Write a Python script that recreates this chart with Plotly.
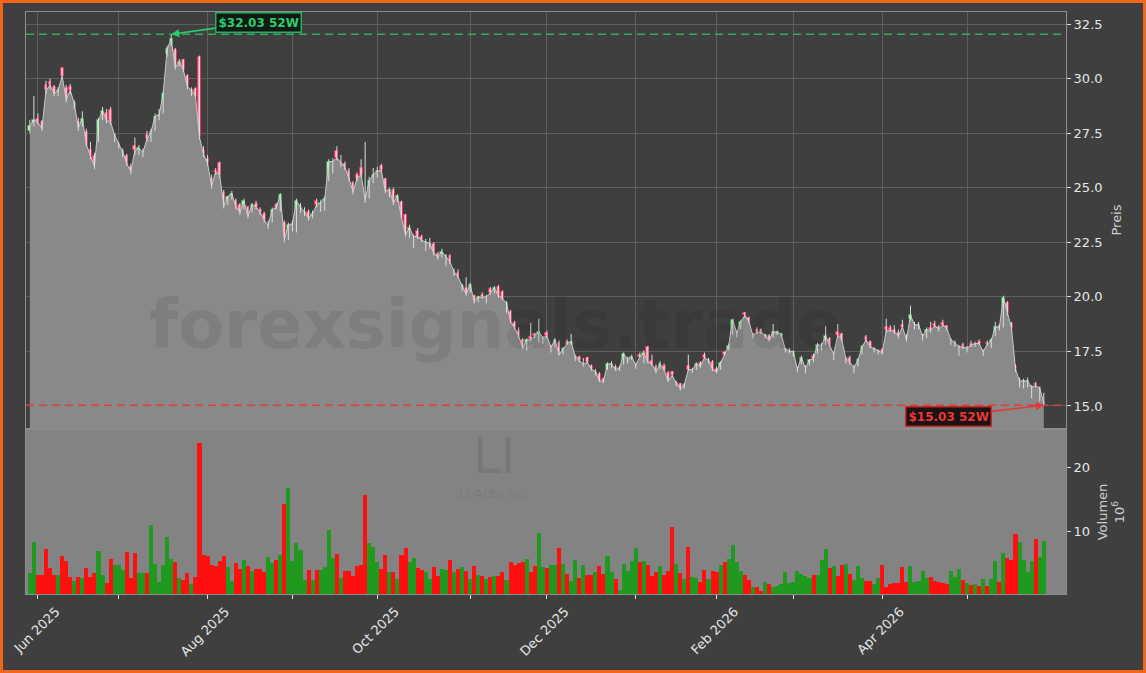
import pandas as pd
import plotly.graph_objects as go

# ---------------- data ----------------
open_ = [
27.6, 27.85, 28.15, 28.0, 29.7, 29.85, 29.6, 29.3, 30.48, 29.55,
29.6, 28.7, 28.0, 27.9, 27.55, 26.75, 26.45, 27.23, 28.2, 28.43,
28.55, 27.2, 26.85, 26.45, 26.45, 25.95, 26.9, 26.6, 26.5, 27.4,
27.2, 27.7, 28.2, 28.5, 31.13, 31.6, 31.3, 30.65, 30.83, 30.1,
29.35, 29.5, 31.0, 26.7, 26.3, 25.4, 25.78, 26.14, 24.78, 24.3,
24.55, 24.4, 24.2, 24.1, 24.1, 23.9, 24.25, 24.0, 23.8, 23.2,
23.5, 24.2, 23.96, 23.39, 22.67,
23.1, 23.0, 23.95, 23.8, 23.9, 23.68, 24.4, 24.0, 24.05, 25.35,
25.75, 26.66, 26.05, 26.1, 25.77, 25.2, 25.6, 25.9, 24.6, 24.6,
25.35, 25.55, 26.0, 25.39, 24.65, 24.9, 24.45, 24.34, 23.74, 22.84,
22.33, 23.0, 22.74, 22.16, 22.3, 22.41, 21.98, 21.9, 21.5, 21.85,
21.0, 21.1, 20.35, 20.4, 20.3, 20.02, 19.85, 20.1, 19.8, 20.36,
20.25, 20.47, 20.23, 19.35, 19.32, 18.8, 18.45, 18.03, 17.6, 18.15,
18.3, 17.95, 17.95,
18.35, 17.55, 17.8, 17.9, 17.4, 17.95, 17.85, 17.15, 17.25, 16.85,
17.2, 16.83, 16.45, 16.48, 16.25, 16.7, 16.8, 16.8, 16.68, 16.95,
16.98, 17.15, 16.78, 17.35, 17.0, 17.68, 17.05, 16.8, 16.75, 16.85,
16.5, 16.55, 15.95, 16.0, 15.85, 16.85, 16.55, 16.7, 16.95, 17.35,
16.98, 17.0, 16.7, 16.7, 17.45, 17.6, 18.3, 18.2, 18.55, 19.25,
19.03, 18.15, 18.5, 18.48, 18.15, 18.2, 18.2, 18.3, 18.2, 17.5,
17.45, 17.3, 16.6, 16.95,
16.6, 16.9, 17.3, 17.5, 17.65, 17.9, 18.05, 17.25, 18.4, 18.3,
17.05, 17.2, 16.6, 16.85, 17.4, 18.15, 17.95, 17.5, 17.45, 17.55,
18.6, 18.55, 18.5, 18.35, 18.72, 18.2, 19.0, 18.6, 18.55, 18.1,
18.2, 18.55, 18.75, 18.6, 18.82, 18.65, 17.85, 17.8, 17.4, 17.8,
17.55, 17.85, 17.75, 17.95, 17.4, 17.9, 17.7, 18.3, 18.65, 18.7,
19.7, 18.75, 16.78, 15.95, 15.9, 15.95, 15.45, 16.0, 15.3, 15.1,
]

high = [
28.1, 29.2, 28.4, 28.1, 29.9, 30.0, 29.7, 29.6, 30.5, 29.7,
29.75, 29.0, 28.2, 28.5, 27.7, 27.1, 26.6, 28.2, 28.7, 28.6,
28.7, 27.5, 27.1, 26.8, 26.55, 26.1, 27.3, 26.95, 26.8, 27.6,
27.7, 28.4, 28.6, 29.4, 31.5, 32.03, 31.4, 30.9, 30.9, 30.2,
29.6, 29.6, 31.05, 26.9, 26.5, 25.6, 25.9, 26.2, 24.9, 24.65,
24.85, 24.5, 24.3, 24.5, 24.15, 24.3, 24.4, 24.1, 23.9, 23.5,
24.1, 24.3, 24.75, 23.5, 23.4,
23.5, 24.5, 24.3, 24.1, 24.0, 23.95, 24.5, 24.45, 24.6, 26.3,
26.35, 26.9, 26.5, 26.2, 25.9, 25.3, 25.7, 26.3, 27.1, 25.5,
25.9, 25.95, 26.1, 25.45, 25.0, 25.0, 24.7, 24.4, 23.8, 23.3,
22.85, 23.15, 22.85, 22.65, 22.7, 22.5, 22.05, 22.2, 21.95, 21.95,
21.3, 21.25, 20.6, 20.9, 20.65, 20.1, 20.05, 20.2, 20.1, 20.45,
20.5, 20.55, 20.3, 19.8, 19.4, 18.9, 18.6, 18.1, 18.1, 18.8,
18.35, 19.0, 18.2,
18.45, 17.8, 18.1, 18.0, 17.7, 18.05, 18.3, 17.35, 17.3, 17.2,
17.25, 16.9, 16.7, 16.55, 16.3, 17.0, 17.05, 16.9, 16.85, 17.45,
17.25, 17.35, 16.95, 17.45, 17.55, 17.75, 17.35, 16.9, 17.05, 16.95,
16.6, 16.6, 16.15, 16.05, 16.05, 17.35, 16.75, 17.0, 17.05, 17.45,
17.2, 17.1, 16.8, 17.05, 17.5, 17.85, 19.0, 18.45, 18.95, 19.3,
19.1, 18.35, 18.6, 18.55, 18.3, 18.3, 18.75, 18.45, 18.35, 17.65,
17.65, 17.55, 16.8, 17.3,
16.85, 17.15, 17.4, 17.9, 17.9, 18.65, 18.15, 17.45, 18.75, 18.35,
17.25, 17.3, 16.9, 17.2, 17.8, 18.25, 18.0, 17.7, 17.6, 17.65,
19.0, 18.7, 18.7, 18.5, 18.95, 18.3, 19.6, 18.85, 18.85, 18.3,
18.6, 18.85, 18.9, 18.7, 18.95, 18.7, 18.1, 18.0, 17.8, 17.9,
17.75, 18.0, 17.95, 18.05, 17.6, 18.0, 18.1, 18.85, 18.75, 20.05,
19.8, 18.85, 16.9, 16.3, 16.25, 16.3, 15.95, 16.1, 15.9, 15.6,
]

low = [
27.5, 27.8, 27.9, 27.6, 29.3, 29.5, 29.2, 29.2, 30.0, 28.9,
29.3, 28.6, 27.6, 27.8, 26.9, 26.3, 25.85, 27.1, 28.1, 27.95,
27.9, 27.1, 26.8, 26.4, 26.0, 25.6, 26.5, 26.5, 26.4, 27.1,
27.1, 27.6, 28.1, 28.4, 31.0, 31.5, 30.4, 30.55, 30.3, 29.5,
29.2, 29.1, 27.2, 26.4, 26.0, 24.95, 25.6, 25.45, 24.05, 24.2,
24.45, 24.0, 23.75, 24.0, 23.6, 23.85, 24.0, 23.75, 23.4, 23.1,
23.4, 24.0, 23.9, 22.5, 22.6,
23.0, 22.95, 23.85, 23.7, 23.5, 23.6, 24.1, 23.9, 23.95, 25.3,
25.65, 26.25, 25.95, 25.8, 25.3, 24.7, 25.3, 25.5, 24.3, 24.5,
25.2, 25.45, 25.7, 24.75, 24.55, 24.2, 24.35, 23.55, 22.75, 22.7,
22.25, 22.65, 22.5, 22.1, 22.2, 21.9, 21.7, 21.8, 21.4, 21.5,
20.95, 20.85, 20.25, 20.05, 20.2, 19.7, 19.75, 19.9, 19.7, 20.1,
20.15, 19.95, 19.85, 19.25, 18.8, 18.5, 18.1, 17.6, 17.55, 17.95,
18.1, 17.9, 17.85,
18.1, 17.45, 17.7, 17.3, 17.35, 17.8, 17.8, 17.05, 17.0, 16.8,
16.95, 16.6, 16.4, 16.1, 16.05, 16.65, 16.75, 16.6, 16.6, 16.9,
16.95, 17.1, 16.7, 17.2, 16.95, 16.95, 16.85, 16.5, 16.7, 16.6,
16.1, 16.3, 15.9, 15.7, 15.8, 16.6, 16.5, 16.65, 16.75, 17.15,
16.95, 16.6, 16.5, 16.65, 17.3, 17.55, 18.25, 18.15, 18.5, 19.05,
18.8, 18.1, 18.3, 18.3, 18.1, 17.95, 18.15, 18.25, 18.15, 17.45,
17.4, 17.25, 16.55, 16.9,
16.5, 16.85, 17.0, 17.4, 17.55, 17.8, 17.7, 17.1, 18.15, 17.95,
16.95, 16.9, 16.5, 16.8, 17.35, 17.95, 17.65, 17.45, 17.35, 17.35,
18.35, 18.4, 18.3, 18.1, 18.55, 17.95, 18.9, 18.5, 18.5, 18.0,
18.1, 18.35, 18.6, 18.4, 18.65, 18.45, 17.8, 17.7, 17.3, 17.6,
17.45, 17.7, 17.7, 17.8, 17.3, 17.75, 17.65, 18.2, 18.45, 18.6,
19.15, 18.45, 16.55, 15.85, 15.8, 15.85, 15.35, 15.85, 15.2, 15.03,
]

close = [
27.83, 28.08, 28.0, 27.7, 29.46, 29.7, 29.3, 29.46, 30.1, 29.03,
29.46, 28.86, 27.74, 28.17, 26.97, 26.45, 25.97, 28.08, 28.51, 28.08,
28.0, 27.4, 26.97, 26.62, 26.1, 25.75, 26.71, 26.8, 26.62, 27.23,
27.57, 28.26, 28.34, 29.29, 31.35, 31.81, 30.49, 30.78, 30.4, 29.63,
29.46, 29.2, 27.31, 26.54, 26.11, 25.08, 25.73, 25.56, 24.18, 24.56,
24.73, 24.13, 23.87, 24.39, 23.7, 24.22, 24.13, 23.87, 23.53, 23.27,
24.0, 24.08, 24.68, 22.64, 23.27,
23.35, 24.39, 24.1, 23.9, 23.6, 23.8, 24.22, 24.3, 24.48, 26.2,
26.2, 26.37, 26.15, 25.94, 25.42, 24.82, 25.42, 25.6, 24.45, 25.3,
25.6, 25.75, 25.8, 24.82, 24.9, 24.3, 24.6, 23.62, 22.84, 23.15,
22.76, 22.76, 22.59, 22.5, 22.45, 21.98, 21.81, 22.07, 21.85, 21.6,
21.15, 20.92, 20.5, 20.13, 20.55, 19.8, 19.98, 19.98, 20.0, 20.18,
20.4, 20.06, 19.92, 19.7, 18.86, 18.58, 18.2, 17.66, 18.0, 18.05,
18.2, 18.4, 18.12,
18.2, 17.69, 18.03, 17.35, 17.6, 17.86, 17.95, 17.26, 17.09, 16.92,
17.0, 16.69, 16.57, 16.14, 16.14, 16.92, 16.92, 16.66, 16.74, 17.38,
17.14, 17.26, 16.86, 17.26, 17.43, 17.0, 16.92, 16.57, 16.92, 16.66,
16.14, 16.4, 16.06, 15.8, 15.97, 16.66, 16.66, 16.92, 16.83, 17.21,
17.09, 16.66, 16.57, 16.97, 17.35, 17.77, 18.93, 18.34, 18.86, 19.15,
18.86, 18.24, 18.38, 18.38, 18.24, 18.0, 18.38, 18.38, 18.29, 17.6,
17.52, 17.48, 16.69, 17.21,
16.74, 17.09, 17.17, 17.81, 17.77, 18.2, 17.77, 17.38, 18.24, 18.03,
17.17, 17.0, 16.74, 17.09, 17.69, 18.03, 17.72, 17.6, 17.52, 17.43,
18.46, 18.46, 18.41, 18.2, 18.63, 18.03, 19.15, 18.72, 18.72, 18.2,
18.5, 18.46, 18.68, 18.51, 18.72, 18.55, 18.03, 17.9, 17.72, 17.69,
17.65, 17.77, 17.86, 17.86, 17.48, 17.83, 18.0, 18.63, 18.58, 19.96,
19.24, 18.58, 16.69, 16.14, 16.14, 16.14, 15.85, 15.94, 15.8, 15.15,
]

volume = [  # millions
3.5, 8.3, 3.1, 3.1, 7.2, 4.2, 3.1, 3.1, 6.1, 5.3,
2.8, 2.2, 2.8, 2.6, 4.2, 2.8, 3.5, 6.9, 3.1, 1.9,
5.7, 4.7, 4.7, 3.9, 6.7, 2.6, 6.6, 3.4, 3.5, 3.5,
10.9, 4.8, 2.1, 4.7, 9.0, 5.7, 5.2, 2.6, 2.4, 3.5,
1.8, 2.8, 23.7, 6.3, 6.1, 4.7, 4.6, 5.3, 6.1, 4.4,
2.2, 5.0, 4.0, 5.4, 4.6, 3.8, 4.1, 4.1, 3.6, 5.9,
5.0, 5.4, 6.3, 14.3, 16.7,
5.28, 8.2, 7.05, 2.36, 3.94, 2.36, 3.94, 3.94, 4.41, 10.1,
5.75, 6.34, 2.65, 3.7, 3.7, 2.95, 4.58, 4.69, 15.65, 8.2,
7.52, 5.17, 4.11, 6.28, 3.53, 3.53, 2.47, 6.28, 7.28, 5.17,
5.75, 4.23, 3.94, 3.53, 2.47, 4.41, 2.95, 4.11, 3.94, 5.41,
3.64, 4.11, 4.41, 3.82, 2.47, 4.52, 3.06, 2.95, 2.47, 2.83,
2.95, 2.95, 3.53, 2.36, 5.17, 4.69, 4.98, 5.17, 5.58, 3.53,
4.58, 9.69, 4.41,
4.23, 4.69, 4.69, 7.34, 4.81, 3.23, 2.18, 5.41, 2.65, 4.69,
3.06, 3.06, 3.53, 4.52, 3.23, 6.11, 3.53, 2.47, 0.72, 4.81,
3.82, 5.28, 7.28, 5.17, 5.28, 4.69, 2.95, 3.53, 4.52, 3.06,
3.82, 10.7, 4.81, 3.41, 2.47, 7.52, 2.83, 2.65, 2.06, 3.94,
2.47, 3.7, 3.64, 4.69, 5.17, 5.58, 7.75, 5.17, 3.82, 3.06,
2.36, 1.18, 1.18, 0.7, 2.06, 1.77, 1.3, 1.47, 1.65, 3.53,
1.88, 2.06, 3.82, 3.23,
2.95, 2.65, 3.06, 3.06, 5.41, 7.22, 4.23, 4.52, 2.95, 4.64,
4.81, 3.23, 2.36, 4.58, 2.65, 2.18, 2.18, 1.77, 2.65, 4.69,
1.18, 1.77, 1.88, 1.88, 4.41, 2.06, 4.52, 2.06, 2.18, 3.7,
2.65, 2.77, 2.18, 2.06, 1.94, 1.77, 3.7, 2.83, 4.0, 2.36,
1.88, 1.59, 1.77, 1.47, 2.53, 1.36, 2.47, 5.28, 2.06, 6.58,
5.75, 5.41, 9.57, 8.22, 5.46, 3.53, 5.28, 8.69, 5.87, 8.51,
]

first_day = "2025-05-29"
market_holidays = ["2025-06-19", "2025-07-04", "2025-09-01", "2025-11-27", "2025-12-25",
                   "2026-01-01", "2026-01-19", "2026-02-16", "2026-04-03", "2026-05-25"]
price_ticks = [15.0, 17.5, 20.0, 22.5, 25.0, 27.5, 30.0, 32.5]
volume_ticks = [10, 20]
ticker = "LI"
company = "Li Auto Inc"
watermark = "forexsignals.trade"

# ---------------- derived ----------------
n = len(close)
x = list(range(n))
bd = pd.bdate_range(first_day, "2026-12-31")
bd = bd[~bd.isin(pd.to_datetime(market_holidays))]
dates = bd[:n]

tickvals, ticktext = [], []
for i in range(1, n):
    if dates[i].month != dates[i - 1].month:
        tickvals.append(i)
        ticktext.append(dates[i].strftime("%b %Y") if dates[i].month % 2 == 0 else " ")

up = [c >= o for o, c in zip(open_, close)]
body_lo = [min(o, c) for o, c in zip(open_, close)]
body_h = [abs(c - o) for o, c in zip(open_, close)]
body_fill = ["#bdeec2" if u else "#f59ab0" for u in up]
body_edge = ["#3aa84a" if u else "#e8325f" for u in up]
vol_colors = ["#1f9a1f" if u else "#ff1010" for u in up]

wick_x, wick_y = [], []
for i in x:
    wick_x += [i, i, None]
    wick_y += [low[i], high[i], None]

hi52 = max(high)
lo52 = min(low)
i_hi = high.index(hi52)
i_lo = low.index(lo52)

BG = "#3f3f3f"
FONT = "DejaVu Sans"
GRID = "#5e5e5e"
SPINE = "#8e8e8e"

fig = go.Figure()

# area under close
fig.add_trace(go.Scatter(x=x, y=close, mode="lines", line=dict(color="#c9c9c9", width=1),
                         fill="tozeroy", fillcolor="#898989", hoverinfo="skip",
                         xaxis="x", yaxis="y"))
# wicks
fig.add_trace(go.Scatter(x=wick_x, y=wick_y, mode="lines", line=dict(color="#dcdcdc", width=1),
                         hoverinfo="skip", xaxis="x", yaxis="y"))
# bodies
fig.add_trace(go.Bar(x=x, y=body_h, base=body_lo, width=0.72,
                     marker=dict(color=body_fill, line=dict(color=body_edge, width=1)),
                     xaxis="x", yaxis="y"))
# volume
fig.add_trace(go.Bar(x=x, y=volume, marker=dict(color=vol_colors, line=dict(width=0)),
                     width=1.0, xaxis="x2", yaxis="y2"))

W, H = 1146, 673
ML, MR, MT, MB = 26, 80, 12, 79
PW, PH = W - ML - MR, H - MT - MB
xr = [-0.95, 256.5]

tickfont = dict(family=FONT, size=13, color="#e6e6e6")

fig.update_layout(
    width=W, height=H, autosize=False,
    margin=dict(l=ML, r=MR, t=MT, b=MB),
    paper_bgcolor=BG, plot_bgcolor=BG,
    showlegend=False, barmode="overlay", bargap=0,
    font=dict(family=FONT, color="#e6e6e6"),
    xaxis=dict(domain=[0, 1], anchor="y", range=xr, tickvals=tickvals, showticklabels=False,
               ticks="", showgrid=True, gridcolor=GRID, gridwidth=1, zeroline=False,
               showline=True, linecolor=SPINE, mirror=True),
    yaxis=dict(domain=[(594 - 428) / PH, 1], anchor="x", side="right", range=[13.99, 33.05],
               tickvals=price_ticks, tickformat=".1f", ticks="outside", ticklen=4,
               tickcolor="#d8d8d8", tickfont=tickfont, showgrid=True, gridcolor=GRID,
               zeroline=False, showline=True, linecolor=SPINE, mirror=True,
               title=dict(text="Preis", font=dict(family=FONT, size=13, color="#d0d0d0"), standoff=10)),
    xaxis2=dict(domain=[0, 1], anchor="y2", range=xr, tickvals=tickvals, ticktext=ticktext,
                tickangle=-45, ticks="outside", ticklen=4, tickcolor="#e0e0e0", tickfont=tickfont,
                ticklabeloverflow="allow", ticklabelshift=18,
                showgrid=False, zeroline=False, showline=True, linecolor=SPINE, mirror=True,
                automargin=False),
    yaxis2=dict(domain=[0, (594 - 430) / PH], anchor="x2", side="right", range=[0.16, 25.8],
                tickvals=volume_ticks, ticks="outside", ticklen=4, tickcolor="#d8d8d8",
                tickfont=tickfont, showgrid=False, zeroline=False, showline=True,
                linecolor=SPINE, mirror=True,
                title=dict(text="Volumen<br>10<sup>6</sup>",
                           font=dict(family=FONT, size=13, color="#d0d0d0"), standoff=8)),
)

shapes = [
    # volume panel background
    dict(type="rect", xref="x2 domain", yref="y2 domain", x0=0, x1=1, y0=0, y1=1,
         fillcolor="#838383", line=dict(width=0), layer="below"),
    # 52W high / low lines
    dict(type="line", xref="x domain", yref="y", x0=0, x1=1, y0=hi52, y1=hi52,
         line=dict(color="#3aa860", width=1.6, dash="8px,5px")),
    dict(type="line", xref="x domain", yref="y", x0=0, x1=1, y0=lo52, y1=lo52,
         line=dict(color="#d94040", width=1.6, dash="8px,5px")),
    # orange frame
    dict(type="rect", xref="paper", yref="paper",
         x0=(1.5 - ML) / PW, x1=(W - 1.5 - ML) / PW,
         y0=(1.5 - MB) / PH, y1=(H - 1.5 - MB) / PH,
         line=dict(color="#f2661a", width=3), fillcolor="rgba(0,0,0,0)"),
]
fig.update_layout(shapes=shapes)

annotations = [
    dict(x=(495 - ML) / PW, y=(594 - 325) / PH, xref="paper", yref="paper",
         text=f"<b>{watermark}</b>", showarrow=False, xanchor="center", yanchor="middle",
         font=dict(family=FONT, size=67, color="rgba(0,0,0,0.08)")),
    dict(x=(494 - ML) / PW, y=(594 - 456) / PH, xref="paper", yref="paper",
         text=ticker, showarrow=False, xanchor="center", yanchor="middle",
         font=dict(family=FONT, size=50, color="rgba(0,0,0,0.08)")),
    dict(x=(493 - ML) / PW, y=(594 - 494) / PH, xref="paper", yref="paper",
         text=company, showarrow=False, xanchor="center", yanchor="middle",
         font=dict(family=FONT, size=13, color="rgba(0,0,0,0.08)")),
    dict(x=i_hi, y=hi52, xref="x", yref="y", text=f"<b>${hi52:.2f} 52W</b>",
         showarrow=True, ax=87, ay=-12, arrowhead=2, arrowsize=1, arrowwidth=1.6,
         arrowcolor="#2ecc71", font=dict(family=FONT, size=12, color="#2ecc71"),
         bgcolor="#0e1a12", bordercolor="#27ae60", borderwidth=1.5, borderpad=2),
    dict(x=i_lo, y=lo52, xref="x", yref="y", text=f"<b>${lo52:.2f} 52W</b>",
         showarrow=True, ax=-95, ay=11, arrowhead=2, arrowsize=1, arrowwidth=1.6,
         arrowcolor="#e53935", font=dict(family=FONT, size=12, color="#e53935"),
         bgcolor="#1c1212", bordercolor="#c62828", borderwidth=1.5, borderpad=2),
]
fig.update_layout(annotations=annotations)

fig.write_html(
    "out.html",
    config={"displayModeBar": False},
    post_script="document.body.style.margin='0px';document.body.style.overflow='hidden';",
)
